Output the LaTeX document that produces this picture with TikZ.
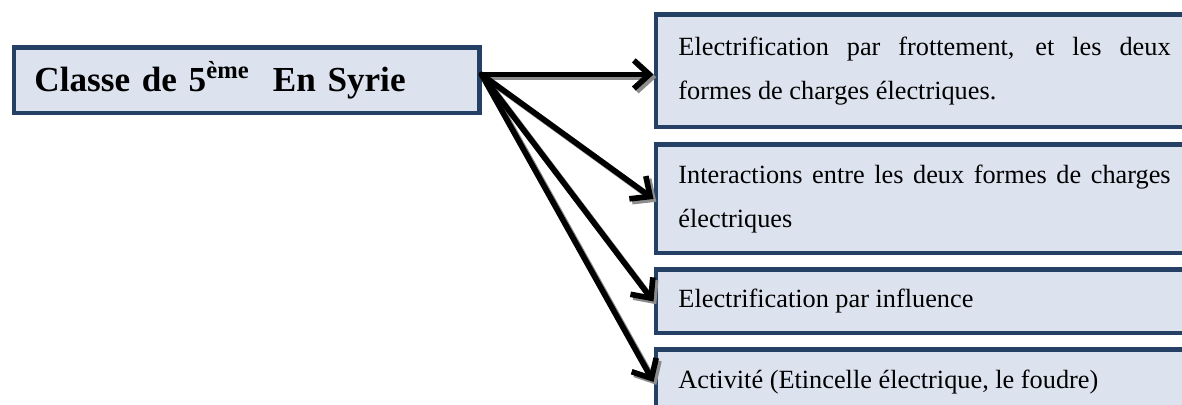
\documentclass[tikz,border=0pt]{standalone}
\usepackage{fontspec}
\setmainfont{Liberation Serif}
\usetikzlibrary{positioning,arrows.meta}

\definecolor{boxline}{RGB}{36,64,100}
\definecolor{boxfill}{RGB}{220,227,239}

\newcommand{\nohyph}{\hyphenpenalty=10000\relax\tolerance=10000\relax}

\tikzset{
    box/.style={rectangle, draw=boxline, line width=3.5pt, fill=boxfill, anchor=north west},
    theme/.style={box, inner xsep=0.5625cm, inner ysep=0pt, text width=12.3cm, align=justify,
        font=\fontsize{18.7}{31.3}\selectfont\nohyph},
    link/.style={-{Straight Barb[length=11pt,width=20pt]}, line width=4pt, line cap=round},
    shadowlink/.style={link, draw=black!45, transform canvas={shift={(2pt,-2pt)}}}
}

\begin{document}
\begin{tikzpicture}[x=0.025cm, y=-0.025cm]
    \useasboundingbox (0,0) rectangle (1182,405);
    \clip (0,0) rectangle (1182,405);

    % left box
    \node[box, minimum width=11.625cm, minimum height=1.625cm, inner xsep=0.5cm,
        text width=10.6cm, align=left, font=\bfseries\fontsize{25}{30}\selectfont]
        (classe) at (11.5,45.5) {Classe de 5\textsuperscript{ème}\ \ En Syrie};

    % right boxes
    \node[theme, minimum height=2.8cm] (frott) at (653.5,12.5)
        {Electrification par frottement, et les deux formes de charges électriques.};
    \node[theme, minimum height=2.7cm] (inter) at (653.5,142.5)
        {Interactions entre les deux formes de charges électriques};
    \node[theme, minimum height=1.575cm] (infl) at (653.5,267.5)
        {Electrification par influence};
    \node[theme, minimum height=1.6cm] (activ) at (653.5,347.5)
        {Activité (Etincelle électrique, le foudre)};

    \coordinate (hub) at ([yshift=0.15cm]classe.east);

    % shadows first
    \foreach \t in {inter,infl,activ}
        \draw[shadowlink] (hub) -- (\t.west);
    \draw[shadowlink] (hub) -- (frott.west |- hub);

    \draw[link] (hub) -- (frott.west |- hub);
    \draw[link] (hub) -- (inter.west);
    \draw[link] (hub) -- (infl.west);
    \draw[link] (hub) -- (activ.west);

\end{tikzpicture}
\end{document}
